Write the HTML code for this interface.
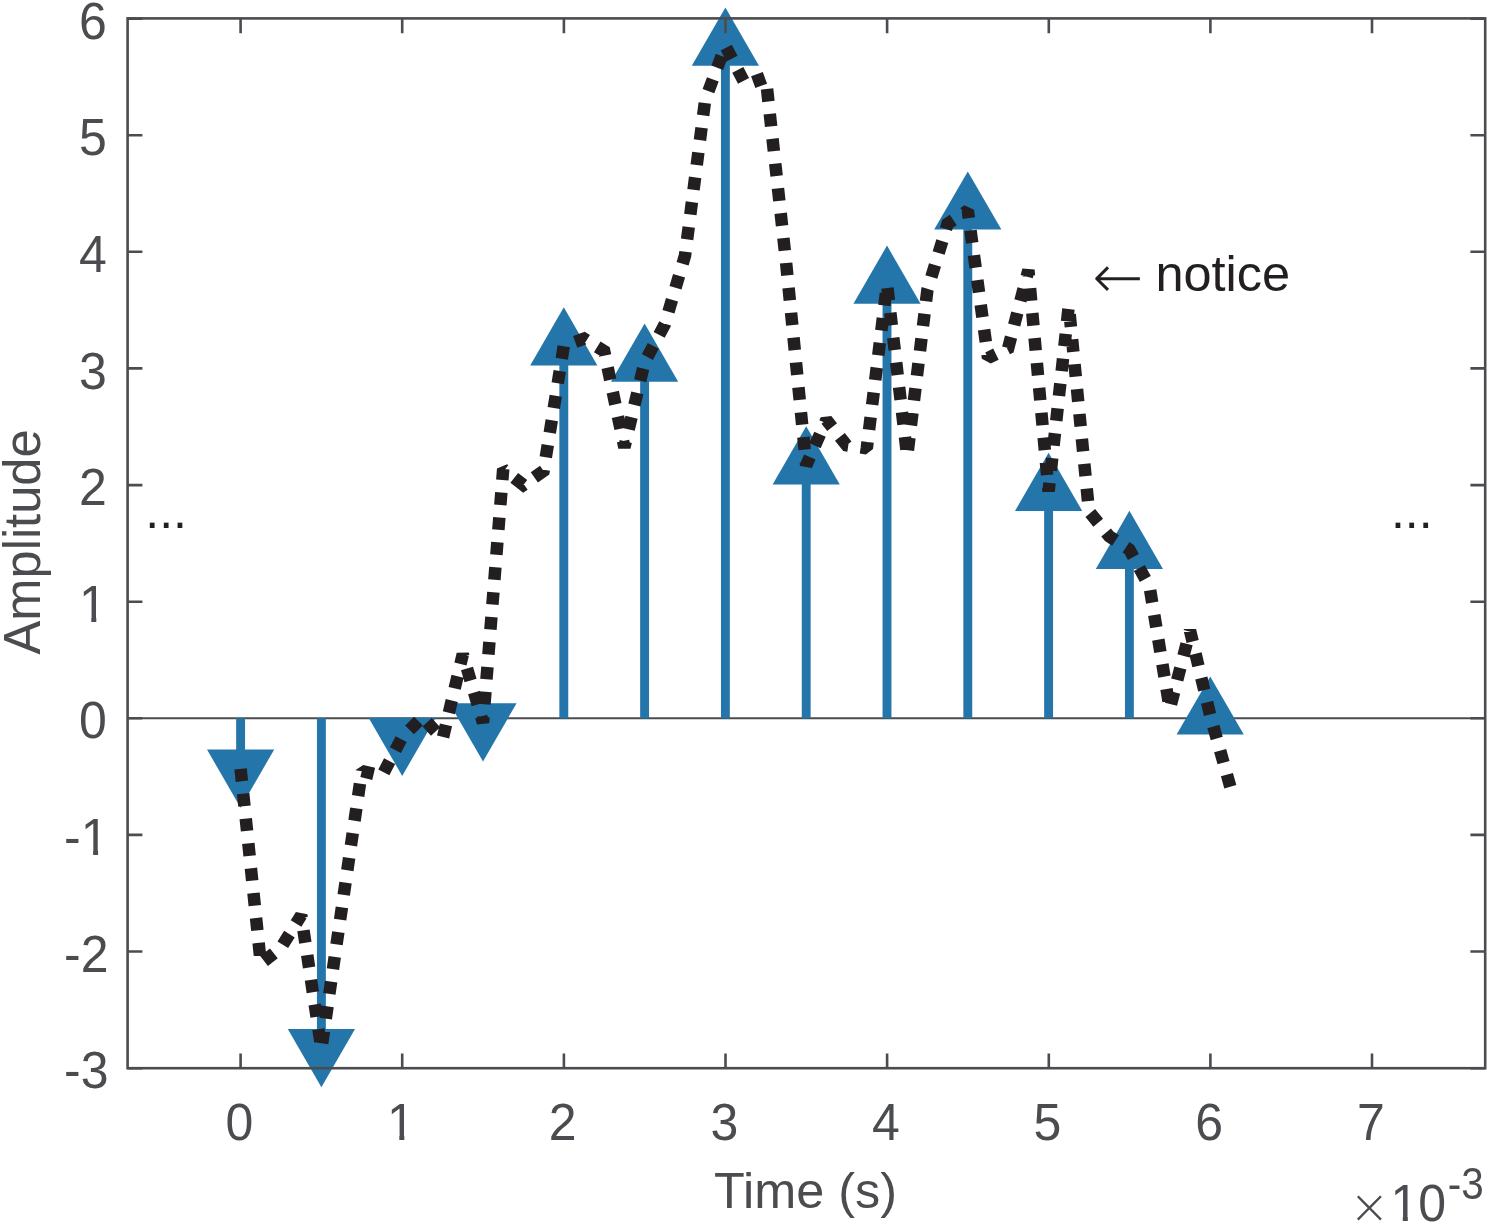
<!DOCTYPE html>
<html lang="en"><head><meta charset="utf-8"><title>Amplitude vs Time</title>
<style>html,body{margin:0;padding:0;background:#fff}svg{display:block}text{font-family:"Liberation Sans","DejaVu Sans",sans-serif;font-size:50px;fill:#4b4c4f}.k{fill:#231f20}</style></head><body>
<svg width="1488" height="1225" viewBox="0 0 1488 1225">
<rect width="1488" height="1225" fill="#fff"/>
<line x1="127.6" y1="718.3" x2="1485.2" y2="718.3" stroke="#4b4c4f" stroke-width="1.9"/>
<g stroke="#2476aa" stroke-width="8.9" fill="none">
<line x1="240.6" y1="718.3" x2="240.6" y2="768.9"/>
<line x1="321.4" y1="718.3" x2="321.4" y2="1048.4"/>
<line x1="402.2" y1="718.3" x2="402.2" y2="737.1"/>
<line x1="483.0" y1="718.3" x2="483.0" y2="722.6"/>
<line x1="563.8" y1="718.3" x2="563.8" y2="346.0"/>
<line x1="644.6" y1="718.3" x2="644.6" y2="362.3"/>
<line x1="725.4" y1="718.3" x2="725.4" y2="46.4"/>
<line x1="806.2" y1="718.3" x2="806.2" y2="465.1"/>
<line x1="887.0" y1="718.3" x2="887.0" y2="284.4"/>
<line x1="967.8" y1="718.3" x2="967.8" y2="210.2"/>
<line x1="1048.6" y1="718.3" x2="1048.6" y2="491.5"/>
<line x1="1129.4" y1="718.3" x2="1129.4" y2="549.5"/>
<line x1="1210.2" y1="718.3" x2="1210.2" y2="715.2"/>
</g>
<g fill="#2476aa">
<polygon points="207.0,749.5 274.2,749.5 240.6,807.7"/>
<polygon points="287.8,1029.0 355.0,1029.0 321.4,1087.2"/>
<polygon points="368.6,717.7 435.8,717.7 402.2,775.9"/>
<polygon points="449.4,703.2 516.6,703.2 483.0,761.4"/>
<polygon points="530.2,365.4 597.4,365.4 563.8,307.2"/>
<polygon points="611.0,381.7 678.2,381.7 644.6,323.5"/>
<polygon points="691.8,65.8 759.0,65.8 725.4,7.6"/>
<polygon points="772.6,484.5 839.8,484.5 806.2,426.3"/>
<polygon points="853.4,303.8 920.6,303.8 887.0,245.6"/>
<polygon points="934.2,229.6 1001.4,229.6 967.8,171.4"/>
<polygon points="1015.0,510.9 1082.2,510.9 1048.6,452.7"/>
<polygon points="1095.8,568.9 1163.0,568.9 1129.4,510.7"/>
<polygon points="1176.6,734.6 1243.8,734.6 1210.2,676.4"/>
</g>
<path d="M240.6 768.8 L260.8 963.6 L281.0 947.7 L301.2 915.3 L321.4 1048.7 L341.6 909.5 L361.8 771.0 L382.0 775.8 L402.2 737.1 L422.4 717.2 L442.6 739.1 L462.8 654.2 L483.0 722.7 L503.2 469.1 L523.4 485.0 L543.6 470.9 L563.8 345.9 L584.0 338.6 L604.2 351.2 L624.4 447.4 L644.6 362.2 L664.8 324.3 L685.0 255.6 L705.2 99.7 L725.4 46.0 L745.6 84.8 L765.8 77.5 L786.0 261.7 L806.2 465.4 L826.4 419.8 L846.6 445.3 L866.8 448.3 L887.0 284.4 L907.2 456.0 L927.4 290.0 L947.6 223.7 L967.8 210.5 L988.0 358.0 L1008.2 348.1 L1028.4 270.1 L1048.6 491.4 L1068.8 305.5 L1089.0 511.5 L1109.2 536.2 L1129.4 549.6 L1149.6 586.8 L1169.8 708.9 L1190.0 630.5 L1210.2 715.2 L1230.4 787.0" fill="none" stroke="#231f20" stroke-width="12.5" stroke-dasharray="12.5 12.5" stroke-linejoin="miter" stroke-miterlimit="1.42"/>
<g stroke="#4b4c4f" stroke-width="2.6" fill="none">
<rect x="127.6" y="18.4" width="1357.6000000000001" height="1049.8"/>
<path d="M240.6 1068.2V1053.4M240.6 18.4V33.2M402.2 1068.2V1053.4M402.2 18.4V33.2M563.9 1068.2V1053.4M563.9 18.4V33.2M725.5 1068.2V1053.4M725.5 18.4V33.2M887.1 1068.2V1053.4M887.1 18.4V33.2M1048.8 1068.2V1053.4M1048.8 18.4V33.2M1210.4 1068.2V1053.4M1210.4 18.4V33.2M1372.0 1068.2V1053.4M1372.0 18.4V33.2M127.6 1068.2H142.4M1485.2 1068.2H1470.4M127.6 951.5H142.4M1485.2 951.5H1470.4M127.6 834.9H142.4M1485.2 834.9H1470.4M127.6 718.3H142.4M1485.2 718.3H1470.4M127.6 601.7H142.4M1485.2 601.7H1470.4M127.6 485.1H142.4M1485.2 485.1H1470.4M127.6 368.4H142.4M1485.2 368.4H1470.4M127.6 251.8H142.4M1485.2 251.8H1470.4M127.6 135.2H142.4M1485.2 135.2H1470.4M127.6 18.6H142.4M1485.2 18.6H1470.4"/>
</g>
<text transform="translate(239.4,1139.5) scale(1,1.03)" text-anchor="middle">0</text>
<text transform="translate(401.0,1139.5) scale(1,1.03)" text-anchor="middle">1</text>
<text transform="translate(562.7,1139.5) scale(1,1.03)" text-anchor="middle">2</text>
<text transform="translate(724.3,1139.5) scale(1,1.03)" text-anchor="middle">3</text>
<text transform="translate(885.9,1139.5) scale(1,1.03)" text-anchor="middle">4</text>
<text transform="translate(1047.5,1139.5) scale(1,1.03)" text-anchor="middle">5</text>
<text transform="translate(1209.2,1139.5) scale(1,1.03)" text-anchor="middle">6</text>
<text transform="translate(1370.8,1139.5) scale(1,1.03)" text-anchor="middle">7</text>
<text transform="translate(108.5,1088.3) scale(1,1.03)" text-anchor="end">-3</text>
<text transform="translate(108.5,971.6) scale(1,1.03)" text-anchor="end">-2</text>
<text transform="translate(108.5,855.0) scale(1,1.03)" text-anchor="end">-1</text>
<text transform="translate(106.7,738.4) scale(1,1.03)" text-anchor="end">0</text>
<text transform="translate(106.7,621.8) scale(1,1.03)" text-anchor="end">1</text>
<text transform="translate(106.7,505.2) scale(1,1.03)" text-anchor="end">2</text>
<text transform="translate(106.7,388.5) scale(1,1.03)" text-anchor="end">3</text>
<text transform="translate(106.7,271.9) scale(1,1.03)" text-anchor="end">4</text>
<text transform="translate(106.7,155.3) scale(1,1.03)" text-anchor="end">5</text>
<text transform="translate(106.7,38.7) scale(1,1.03)" text-anchor="end">6</text>
<text x="805.5" y="1208" text-anchor="middle" style="font-size:50.4px">Time (s)</text>
<text transform="translate(40.1,541.9) rotate(-90) scale(1,1.035)" text-anchor="middle" style="font-size:50.6px">Amplitude</text>
<text x="1349.2" y="1223.1" style="font-family:'DejaVu Sans',sans-serif;font-weight:200;font-size:48px">×</text>
<text transform="translate(1390.4,1221.0) scale(1,1.03)" text-anchor="start">10</text>
<text transform="translate(1447.8,1199.2) scale(1,1.09)" style="font-size:40.5px">-3</text>
<text class="k" x="145.3" y="527.8">...</text>
<text class="k" x="1390.9" y="527.8">...</text>
<text class="k" x="1092.3" y="297.6" style="font-family:'DejaVu Sans',sans-serif;font-weight:200;font-size:61px">←</text>
<text class="k" x="1155.4" y="291" style="font-size:50.5px">notice</text>
<rect x="389.3" y="1135.3" width="10" height="5.4" fill="#fff"/><rect x="404.3" y="1135.3" width="10" height="5.4" fill="#fff"/>
<rect x="81.3" y="617.3" width="10" height="5.4" fill="#fff"/><rect x="96.3" y="617.3" width="10" height="5.4" fill="#fff"/>
<rect x="83.1" y="850.3" width="10" height="5.4" fill="#fff"/><rect x="98.1" y="850.3" width="10" height="5.4" fill="#fff"/>
<rect x="1392.8" y="1216.3" width="10" height="5.4" fill="#fff"/><rect x="1407.8" y="1216.3" width="10" height="5.4" fill="#fff"/>
</svg></body></html>
